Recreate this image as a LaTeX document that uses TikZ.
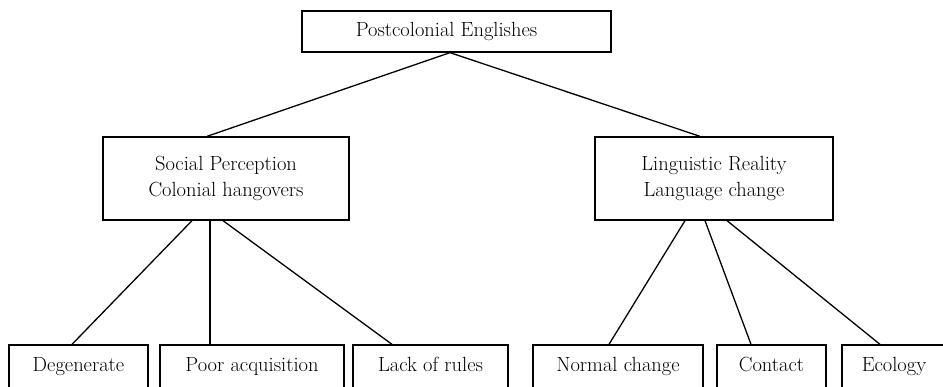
\documentclass[tikz,border=0pt]{standalone}
\usepackage{tikz}
\usetikzlibrary{positioning}

\begin{document}
\begin{tikzpicture}[x=1pt,y=1pt,
    box/.style={draw, line width=1.3pt, inner sep=0pt, align=center},
    leaf/.style={box, minimum height=44, text height=14pt, text depth=5pt},
    link/.style={line width=1.3pt}]
    \useasboundingbox (0,0) rectangle (943,386);
    \clip (0,0) rectangle (943,386);
    \fontsize{20.5}{26}\selectfont

    \node[box, minimum width=309, minimum height=41] (root) at (456.5,354.5) {Postcolonial Englishes\hspace*{20pt}};

    \node[box, minimum width=246, minimum height=83] (social) at (226,207.5) {Social Perception\\Colonial hangovers};
    \node[box, minimum width=238, minimum height=83] (reality) at (714,207.5) {Linguistic Reality\\Language change};

    % leaves, cut by the lower edge
    \foreach \name/\x/\w/\txt in {degen/78.5/139/Degenerate, poor/252/184/Poor acquisition,
                                  lack/430.5/155/Lack of rules, normal/618/170/Normal change,
                                  contact/771.5/109/Contact, ecology/894/104/Ecology}
        \node[leaf, minimum width=\w] (\name) at (\x,19) {\txt};

    \draw[link] ([xshift=-6.5pt]root.south) -- ([xshift=-19pt]social.north);
    \draw[link] ([xshift=-6.5pt]root.south) -- ([xshift=-14pt]reality.north);

    \draw[link] ([xshift=-34pt]social.south) -- ([xshift=-6.5pt]degen.north);
    \draw[link] ([xshift=-16pt]social.south) -- ([xshift=-42pt]poor.north);
    \draw[link] ([xshift=-3pt]social.south) -- ([xshift=-38.5pt]lack.north);

    \draw[link] ([xshift=-29pt]reality.south) -- ([xshift=-9pt]normal.north);
    \draw[link] ([xshift=-9pt]reality.south) -- ([xshift=-20.5pt]contact.north);
    \draw[link] ([xshift=13pt]reality.south) -- ([xshift=-14pt]ecology.north);
\end{tikzpicture}
\end{document}
